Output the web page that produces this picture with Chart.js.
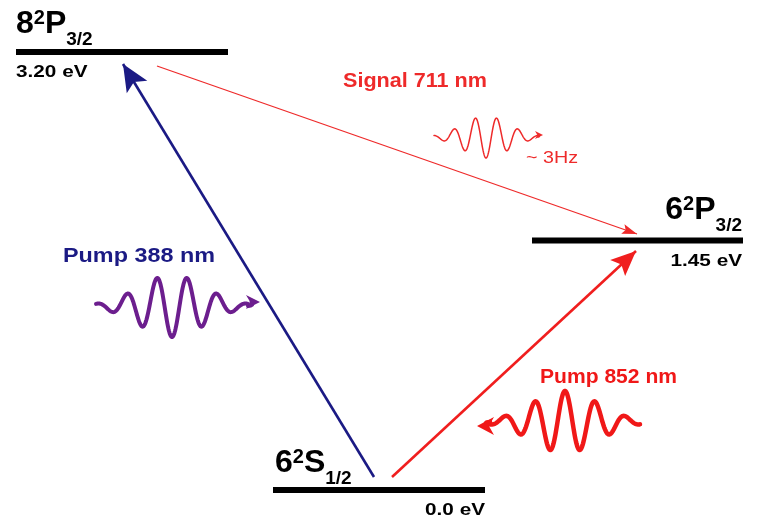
<!DOCTYPE html>
<html>
<head>
<meta charset="utf-8">
<script src="https://cdn.jsdelivr.net/npm/chart.js@4"></script>
<style>
  html, body { margin: 0; padding: 0; background: #fff; }
  canvas { display: block; }
</style>
</head>
<body>
<canvas id="levelChart" width="759" height="519"></canvas>
<script>
// levels of the scheme
const levelN = ['8', '6', '6'];
const levelMult = ['2', '2', '2'];
const levelL = ['P', 'P', 'S'];
const levelJ = ['3/2', '3/2', '1/2'];
const levelEnergy = [3.20, 1.45, 0.0];
const energyLabels = ['3.20 eV', '1.45 eV', '0.0 eV'];

// transitions between them
const transitionNames = ['Pump 388 nm', 'Pump 852 nm', 'Signal 711 nm'];
const transitionFrom = [2, 2, 0];
const transitionTo = [0, 1, 1];
const signalRate = '~ 3Hz';

// layout of the diagram (canvas units, y down)
const levelRow = [52, 240.5, 490];
const levelSpan = [[16, 228], [532, 743], [273, 485]];
const termPos = [[16, 33, 'left'], [742, 219, 'right'], [275, 472, 'left']];
const energyPos = [[16, 77, 'left'], [742, 266, 'right'], [485, 515, 'right']];
const arrowStart = [[374, 477], [392, 477], [157, 66]];
const arrowEnd = [[123, 64], [636, 251], [637, 234]];
const arrowColor = ['#1b1a84', '#f01e1e', '#ee2a2a'];
const arrowWidth = [2.6, 2.6, 1.3];
const arrowHead = [[27, 12, 6], [25, 11, 5], [15, 5, 3]];
const namePos = [[63, 262, 152], [540, 383, 137], [343, 87, 144]];
const nameColor = ['#1b1a84', '#f01818', '#ee2a2a'];

// light pulses drawn next to each transition
const waves = [
    { cx: 172, cy: 306, half: 76, period: 30, amp: 31, sigma: 33, sign: 1, lw: 4, color: '#6c1e8e', tip: [260, 302], dir: 1, head: [14, 7] },
    { cx: 565, cy: 422, half: 75, period: 30, amp: 31, sigma: 33, sign: -1, lw: 4.5, color: '#f01818', tip: [477, 426], dir: -1, head: [17, 9] },
    { cx: 486, cy: 137, half: 52, period: 21.3, amp: 21, sigma: 23, sign: 1, lw: 1.5, color: '#ee2a2a', tip: [543, 135], dir: 1, head: [8, 4] }
];

const FONT = '"Liberation Sans", Arial, sans-serif';

const datasets = [];
levelRow.forEach((y, i) => {
    datasets.push({
        label: levelN[i] + levelL[i] + levelJ[i],
        data: [{ x: levelSpan[i][0], y: y }, { x: levelSpan[i][1], y: y }],
        borderColor: '#000',
        borderWidth: 6,
        showLine: true,
        pointRadius: 0
    });
});
transitionNames.forEach((name, i) => {
    datasets.push({
        label: name,
        data: [{ x: arrowStart[i][0], y: arrowStart[i][1] }, { x: arrowEnd[i][0], y: arrowEnd[i][1] }],
        borderColor: arrowColor[i],
        borderWidth: arrowWidth[i],
        showLine: true,
        pointRadius: 0
    });
});

function arrowHeadAt(ctx, x, y, angle, len, hw, notch, color) {
    ctx.save();
    ctx.translate(x, y);
    ctx.rotate(angle);
    ctx.fillStyle = color;
    ctx.beginPath();
    ctx.moveTo(0, 0);
    ctx.lineTo(-len, -hw);
    ctx.lineTo(-len + notch, 0);
    ctx.lineTo(-len, hw);
    ctx.closePath();
    ctx.fill();
    ctx.restore();
}

function drawText(ctx, text, x, y, font, color, align, width, stretch) {
    ctx.save();
    ctx.font = font;
    ctx.fillStyle = color;
    ctx.textBaseline = 'alphabetic';
    const w = ctx.measureText(text).width;
    const s = width ? width / w : (stretch || 1);
    const left = align === 'right' ? x - w * s : x;
    ctx.translate(left, y);
    ctx.scale(s, 1);
    ctx.textAlign = 'left';
    ctx.fillText(text, 0, 0);
    ctx.restore();
}

function drawTerm(ctx, i, x, base, align) {
    const big = 'bold 32px ' + FONT, sup = 'bold 20px ' + FONT, sub = 'bold 19px ' + FONT;
    ctx.save();
    ctx.fillStyle = '#000';
    ctx.font = big;
    const wN = ctx.measureText(levelN[i]).width;
    const wL = ctx.measureText(levelL[i]).width;
    ctx.font = sup;
    const wM = ctx.measureText(levelMult[i]).width;
    ctx.font = sub;
    const wJ = ctx.measureText(levelJ[i]).width;
    let cx = align === 'right' ? x - (wN + wM + wL + wJ) : x;
    ctx.font = big;
    ctx.fillText(levelN[i], cx, base);
    cx += wN;
    ctx.font = sup;
    ctx.fillText(levelMult[i], cx, base - 9);
    cx += wM;
    ctx.font = big;
    ctx.fillText(levelL[i], cx, base);
    cx += wL;
    ctx.font = sub;
    ctx.fillText(levelJ[i], cx, base + 12);
    ctx.restore();
}

function drawWave(ctx, xs, ys, w) {
    ctx.save();
    ctx.strokeStyle = w.color;
    ctx.lineWidth = w.lw;
    ctx.lineJoin = 'round';
    ctx.lineCap = 'round';
    ctx.beginPath();
    for (let d = -w.half; d <= w.half; d += 0.5) {
        const env = Math.exp(-(d * d) / (2 * w.sigma * w.sigma));
        const px = xs.getPixelForValue(w.cx + d);
        const py = ys.getPixelForValue(w.cy + w.sign * w.amp * env * Math.cos(2 * Math.PI * d / w.period));
        if (d === -w.half) ctx.moveTo(px, py); else ctx.lineTo(px, py);
    }
    const tx = xs.getPixelForValue(w.tip[0]);
    const ty = ys.getPixelForValue(w.tip[1]);
    // join the tail to the arrow on the pointing side
    const endX = xs.getPixelForValue(w.cx + w.dir * w.half);
    ctx.moveTo(endX, ys.getPixelForValue(w.cy));
    ctx.quadraticCurveTo((endX + tx) / 2, ys.getPixelForValue(w.cy), tx - w.dir * w.head[0] * 0.6, ty);
    ctx.stroke();
    ctx.restore();
    arrowHeadAt(ctx, tx, ty, w.dir > 0 ? 0 : Math.PI, w.head[0], w.head[1], w.head[0] * 0.3, w.color);
}

const diagramPlugin = {
    id: 'diagram',
    afterDatasetsDraw(chart) {
        const ctx = chart.ctx;
        const xs = chart.scales.x, ys = chart.scales.y;
        // arrow heads on the transitions
        transitionNames.forEach((name, i) => {
            const meta = chart.getDatasetMeta(levelRow.length + i);
            const a = meta.data[0], b = meta.data[1];
            const ang = Math.atan2(b.y - a.y, b.x - a.x);
            arrowHeadAt(ctx, b.x, b.y, ang, arrowHead[i][0], arrowHead[i][1], arrowHead[i][2], arrowColor[i]);
        });
        waves.forEach(w => drawWave(ctx, xs, ys, w));
        // level names and energies
        levelN.forEach((n, i) => {
            drawTerm(ctx, i, xs.getPixelForValue(termPos[i][0]), ys.getPixelForValue(termPos[i][1]), termPos[i][2]);
            drawText(ctx, energyLabels[i], xs.getPixelForValue(energyPos[i][0]), ys.getPixelForValue(energyPos[i][1]),
                'bold 17px ' + FONT, '#000', energyPos[i][2], null, 1.22);
        });
        transitionNames.forEach((name, i) => {
            drawText(ctx, name, xs.getPixelForValue(namePos[i][0]), ys.getPixelForValue(namePos[i][1]),
                'bold 21px ' + FONT, nameColor[i], 'left', namePos[i][2]);
        });
        drawText(ctx, signalRate, xs.getPixelForValue(526), ys.getPixelForValue(163),
            '17px ' + FONT, '#ee2a2a', 'left', 52);
    }
};

const ctx = document.getElementById('levelChart').getContext('2d');
const levelChart = new Chart(ctx, {
    type: 'scatter',
    data: { datasets: datasets },
    options: {
        responsive: false,
        animation: false,
        devicePixelRatio: 1,
        layout: { padding: 0 },
        plugins: { legend: { display: false }, tooltip: { enabled: false } },
        scales: {
            x: { type: 'linear', min: 0, max: 759, display: false },
            y: { type: 'linear', min: 0, max: 519, reverse: true, display: false }
        }
    },
    plugins: [diagramPlugin]
});
</script>
</body>
</html>
